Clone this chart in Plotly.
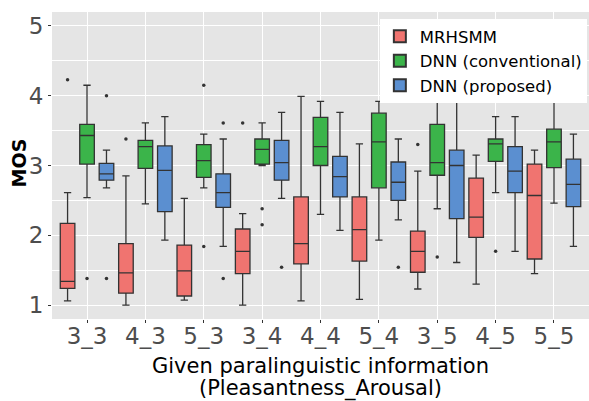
import plotly.graph_objects as go

categories = ["3_3", "4_3", "5_3", "3_4", "4_4", "5_4", "3_5", "4_5", "5_5"]
methods = ["MRHSMM", "DNN (conventional)", "DNN (proposed)"]
fill_colors = ["#F07470", "#3BB44A", "#5B8FD0"]

# per-method box statistics (one value per category)
lower = {
    "MRHSMM":             [1.06, 1.00, 1.07, 1.00, 1.06, 1.08, 1.23, 1.30, 1.45],
    "DNN (conventional)": [2.54, 2.45, 2.68, 3.00, 2.30, 1.93, 2.38, 2.61, 2.46],
    "DNN (proposed)":     [2.68, 1.93, 1.84, 2.53, 2.07, 2.22, 1.61, 1.77, 1.84],
}
q1 = {
    "MRHSMM":             [1.24, 1.17, 1.13, 1.45, 1.59, 1.63, 1.47, 1.97, 1.66],
    "DNN (conventional)": [3.02, 2.96, 2.83, 3.02, 3.00, 2.68, 2.86, 3.06, 2.97],
    "DNN (proposed)":     [2.79, 2.34, 2.40, 2.79, 2.55, 2.50, 2.24, 2.61, 2.41],
}
median = {
    "MRHSMM":             [1.34, 1.46, 1.49, 1.77, 1.88, 2.08, 1.77, 2.26, 2.57],
    "DNN (conventional)": [3.43, 3.27, 3.07, 3.23, 3.27, 3.34, 3.04, 3.31, 3.34],
    "DNN (proposed)":     [2.88, 2.93, 2.61, 3.04, 2.84, 2.76, 3.00, 2.92, 2.73],
}
q3 = {
    "MRHSMM":             [2.17, 1.88, 1.86, 2.09, 2.55, 2.55, 2.06, 2.82, 3.02],
    "DNN (conventional)": [3.59, 3.36, 3.30, 3.38, 3.69, 3.75, 3.59, 3.38, 3.52],
    "DNN (proposed)":     [3.03, 3.28, 2.88, 3.36, 3.13, 3.05, 3.22, 3.27, 3.09],
}
upper = {
    "MRHSMM":             [2.61, 2.85, 2.53, 2.31, 3.99, 3.31, 2.92, 3.15, 3.22],
    "DNN (conventional)": [4.15, 3.61, 3.45, 3.61, 3.92, 3.92, 3.93, 3.70, 3.93],
    "DNN (proposed)":     [3.22, 3.70, 3.38, 3.76, 3.76, 3.38, 3.93, 3.70, 3.45],
}

# outliers: (category, value)
outlier_cats = {
    "MRHSMM": ["3_3", "4_3", "3_4", "3_5"],
    "DNN (conventional)": ["3_3", "5_3", "5_3", "3_4", "3_4", "3_5", "4_5"],
    "DNN (proposed)": ["3_3", "3_3", "5_3", "5_3", "3_4", "5_4"],
}
outlier_vals = {
    "MRHSMM": [4.23, 3.38, 3.61, 3.30],
    "DNN (conventional)": [1.38, 4.15, 1.84, 2.38, 2.15, 1.69, 1.77],
    "DNN (proposed)": [4.00, 1.38, 3.61, 1.38, 1.54, 1.54],
}

x_title_lines = ["Given paralinguistic information", "(Pleasantness_Arousal)"]
y_title = "MOS"

FONT = "DejaVu Sans"
fig = go.Figure()
for i, m in enumerate(methods):
    fig.add_trace(go.Box(
        name=m, x=categories,
        lowerfence=lower[m], q1=q1[m], median=median[m], q3=q3[m], upperfence=upper[m],
        fillcolor=fill_colors[i],
        line=dict(color="#333333", width=1.3),
        offsetgroup=str(i), alignmentgroup="a",
        boxpoints=False,
    ))
for i, m in enumerate(methods):
    fig.add_trace(go.Scatter(
        x=outlier_cats[m], y=outlier_vals[m], mode="markers",
        marker=dict(color="#333333", size=3.5),
        offsetgroup=str(i), alignmentgroup="a",
        showlegend=False, hoverinfo="skip",
    ))

fig.update_layout(
    width=589, height=401,
    margin=dict(l=52, r=0, t=12, b=82),
    paper_bgcolor="white", plot_bgcolor="#E5E5E5",
    boxmode="group", boxgap=0, boxgroupgap=0.25,
    scattermode="group", scattergap=0,
    font=dict(family=FONT, color="black"),
    legend=dict(
        x=0.996, y=0.977, xanchor="right", yanchor="top",
        bgcolor="white", font=dict(size=16.5, color="black", family=FONT),
        tracegroupgap=0, itemsizing="constant", itemwidth=30,
    ),
)
# axis titles as annotations for exact placement
fig.add_annotation(text=x_title_lines[0], xref="paper", yref="paper",
                   x=0.5, y=-0.153, xanchor="center", yanchor="middle",
                   showarrow=False, font=dict(size=21, color="black", family=FONT))
fig.add_annotation(text=x_title_lines[1], xref="paper", yref="paper",
                   x=0.5, y=-0.225, xanchor="center", yanchor="middle",
                   showarrow=False, font=dict(size=21, color="black", family=FONT))
fig.add_annotation(text="<b>" + y_title + "</b>", xref="paper", yref="paper",
                   x=-0.0615, y=0.51, xanchor="center", yanchor="middle", textangle=-90,
                   showarrow=False, font=dict(size=19, color="black", family=FONT))

fig.update_xaxes(
    categoryorder="array", categoryarray=categories,
    range=[-0.6, 8.6],
    showgrid=True, gridcolor="white", gridwidth=1.2,
    ticks="outside", ticklen=3, tickcolor="#333333",
    ticklabelstandoff=-7,
    tickfont=dict(size=23, color="#4D4D4D", family=FONT),
    zeroline=False,
)
fig.update_yaxes(
    range=[0.8, 5.2], tickvals=[1, 2, 3, 4, 5],
    showgrid=True, gridcolor="white", gridwidth=1.2,
    minor=dict(tickvals=[1.5, 2.5, 3.5, 4.5], showgrid=True, gridcolor="white", gridwidth=0.6),
    ticks="outside", ticklen=3, tickcolor="#333333",
    tickfont=dict(size=23, color="#4D4D4D", family=FONT),
    zeroline=False,
)
fig.write_html("out.html")
